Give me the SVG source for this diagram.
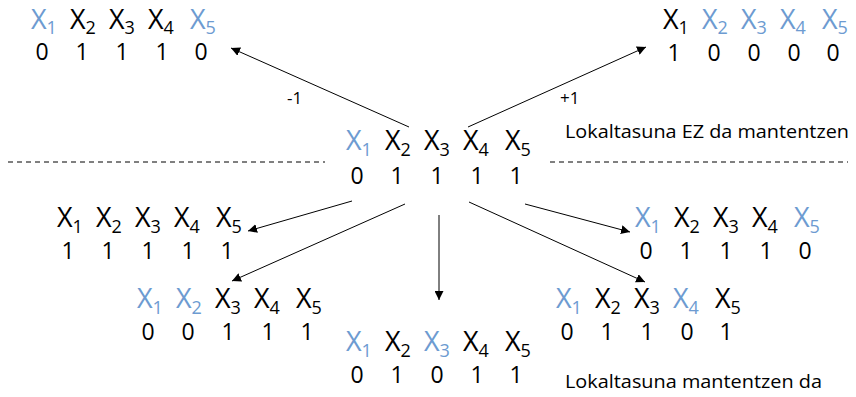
<svg xmlns="http://www.w3.org/2000/svg" width="856" height="397" viewBox="0 0 856 397">
<defs>
<marker id="ah" viewBox="0 0 10 10" refX="10" refY="5" markerWidth="9" markerHeight="9" markerUnits="userSpaceOnUse" orient="auto">
<path d="M0,0 L10,5 L0,10 z" fill="#000"/>
</marker>
<style>
text{font-family:"Open Sans","Noto Sans","DejaVu Sans",sans-serif;fill:#000}
.x{font-size:27px}
.s{font-size:18px}
.d{font-size:23px;text-anchor:middle}
.b{fill:#6d9bd1}
.lbl{font-size:17px}
.st{font-size:19px}
.c line{stroke:#000;stroke-width:1;marker-end:url(#ah)}
.dash{stroke:#000;stroke-width:1;stroke-dasharray:5,4}
</style>
</defs>
<rect width="856" height="397" fill="#fff"/>

<g id="separator">
<line class="dash" x1="8" y1="162" x2="325" y2="162"/>
<line class="dash" x1="550" y1="162" x2="848" y2="162"/>
</g>

<g class="c" id="connectors">
<line x1="409" y1="127" x2="231" y2="48"/>
<line x1="468" y1="127" x2="646" y2="47"/>
<line x1="352" y1="201" x2="248" y2="231"/>
<line x1="405" y1="204" x2="232" y2="281"/>
<line x1="439" y1="215" x2="439" y2="300"/>
<line x1="469" y1="202" x2="645" y2="282"/>
<line x1="525" y1="204" x2="630" y2="232"/>
</g>

<g id="edge-labels">
<text class="lbl" x="287" y="104">-1</text>
<text class="lbl" x="560" y="104">+1</text>
</g>

<g id="node-tl">
<text class="x b" x="31" y="29">X<tspan class="s" dy="5">1</tspan></text>
<text class="x" x="70" y="29">X<tspan class="s" dy="5">2</tspan></text>
<text class="x" x="109" y="29">X<tspan class="s" dy="5">3</tspan></text>
<text class="x" x="148" y="29">X<tspan class="s" dy="5">4</tspan></text>
<text class="x b" x="190" y="29">X<tspan class="s" dy="5">5</tspan></text>
<text class="d" x="42" y="60">0</text><text class="d" x="82" y="60">1</text><text class="d" x="122" y="60">1</text><text class="d" x="162" y="60">1</text><text class="d" x="201" y="60">0</text>
</g>

<g id="node-tr">
<text class="x" x="663" y="29">X<tspan class="s" dy="5">1</tspan></text>
<text class="x b" x="702" y="29">X<tspan class="s" dy="5">2</tspan></text>
<text class="x b" x="741" y="29">X<tspan class="s" dy="5">3</tspan></text>
<text class="x b" x="780" y="29">X<tspan class="s" dy="5">4</tspan></text>
<text class="x b" x="822" y="29">X<tspan class="s" dy="5">5</tspan></text>
<text class="d" x="674" y="61">1</text><text class="d" x="714" y="61">0</text><text class="d" x="754" y="61">0</text><text class="d" x="794" y="61">0</text><text class="d" x="833" y="61">0</text>
</g>

<g id="node-center">
<text class="x b" x="346" y="150">X<tspan class="s" dy="6">1</tspan></text>
<text class="x" x="385" y="150">X<tspan class="s" dy="6">2</tspan></text>
<text class="x" x="424" y="150">X<tspan class="s" dy="6">3</tspan></text>
<text class="x" x="463" y="150">X<tspan class="s" dy="6">4</tspan></text>
<text class="x" x="505" y="150">X<tspan class="s" dy="6">5</tspan></text>
<text class="d" x="357" y="184">0</text><text class="d" x="397" y="184">1</text><text class="d" x="437" y="184">1</text><text class="d" x="477" y="184">1</text><text class="d" x="516" y="184">1</text>
</g>

<g id="status-top">
<text class="st" x="565" y="138" textLength="284" lengthAdjust="spacingAndGlyphs">Lokaltasuna EZ da mantentzen</text>
</g>

<g id="node-ml">
<text class="x" x="57" y="227">X<tspan class="s" dy="6">1</tspan></text>
<text class="x" x="96" y="227">X<tspan class="s" dy="6">2</tspan></text>
<text class="x" x="135" y="227">X<tspan class="s" dy="6">3</tspan></text>
<text class="x" x="174" y="227">X<tspan class="s" dy="6">4</tspan></text>
<text class="x" x="216" y="227">X<tspan class="s" dy="6">5</tspan></text>
<text class="d" x="68" y="259">1</text><text class="d" x="108" y="259">1</text><text class="d" x="148" y="259">1</text><text class="d" x="188" y="259">1</text><text class="d" x="227" y="259">1</text>
</g>

<g id="node-mr">
<text class="x b" x="635" y="227">X<tspan class="s" dy="6">1</tspan></text>
<text class="x" x="674" y="227">X<tspan class="s" dy="6">2</tspan></text>
<text class="x" x="713" y="227">X<tspan class="s" dy="6">3</tspan></text>
<text class="x" x="752" y="227">X<tspan class="s" dy="6">4</tspan></text>
<text class="x b" x="794" y="227">X<tspan class="s" dy="6">5</tspan></text>
<text class="d" x="646" y="259">0</text><text class="d" x="686" y="259">1</text><text class="d" x="726" y="259">1</text><text class="d" x="766" y="259">1</text><text class="d" x="805" y="259">0</text>
</g>

<g id="node-ll">
<text class="x b" x="137" y="308">X<tspan class="s" dy="6">1</tspan></text>
<text class="x b" x="176" y="308">X<tspan class="s" dy="6">2</tspan></text>
<text class="x" x="215" y="308">X<tspan class="s" dy="6">3</tspan></text>
<text class="x" x="254" y="308">X<tspan class="s" dy="6">4</tspan></text>
<text class="x" x="296" y="308">X<tspan class="s" dy="6">5</tspan></text>
<text class="d" x="148" y="340">0</text><text class="d" x="188" y="340">0</text><text class="d" x="228" y="340">1</text><text class="d" x="268" y="340">1</text><text class="d" x="307" y="340">1</text>
</g>

<g id="node-lr">
<text class="x b" x="556" y="308">X<tspan class="s" dy="6">1</tspan></text>
<text class="x" x="595" y="308">X<tspan class="s" dy="6">2</tspan></text>
<text class="x" x="634" y="308">X<tspan class="s" dy="6">3</tspan></text>
<text class="x b" x="673" y="308">X<tspan class="s" dy="6">4</tspan></text>
<text class="x" x="715" y="308">X<tspan class="s" dy="6">5</tspan></text>
<text class="d" x="567" y="340">0</text><text class="d" x="607" y="340">1</text><text class="d" x="647" y="340">1</text><text class="d" x="687" y="340">0</text><text class="d" x="726" y="340">1</text>
</g>

<g id="node-bc">
<text class="x b" x="346" y="351">X<tspan class="s" dy="6">1</tspan></text>
<text class="x" x="385" y="351">X<tspan class="s" dy="6">2</tspan></text>
<text class="x b" x="424" y="351">X<tspan class="s" dy="6">3</tspan></text>
<text class="x" x="463" y="351">X<tspan class="s" dy="6">4</tspan></text>
<text class="x" x="505" y="351">X<tspan class="s" dy="6">5</tspan></text>
<text class="d" x="357" y="383">0</text><text class="d" x="397" y="383">1</text><text class="d" x="437" y="383">0</text><text class="d" x="477" y="383">1</text><text class="d" x="516" y="383">1</text>
</g>

<g id="status-bottom">
<text class="st" x="565" y="388" textLength="257" lengthAdjust="spacingAndGlyphs">Lokaltasuna mantentzen da</text>
</g>
</svg>
